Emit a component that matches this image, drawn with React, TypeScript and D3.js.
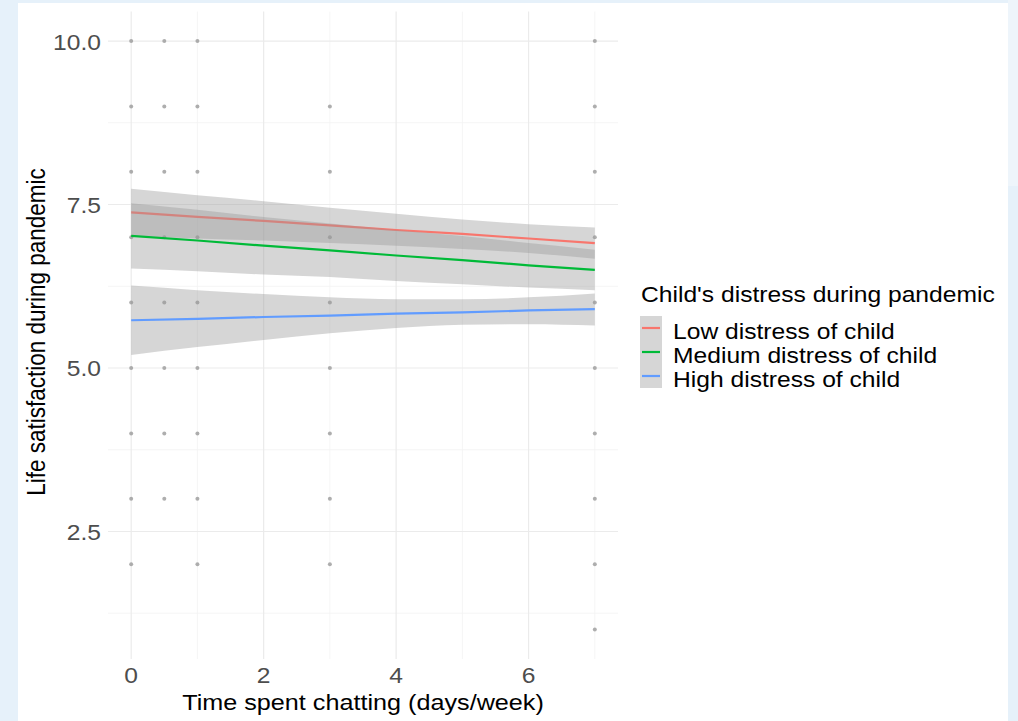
import React from "react";
import * as d3 from "d3";

const xTicks = [0, 2, 4, 6];
const xMinor = [1, 3, 5, 7];
const yTicks = [2.5, 5, 7.5, 10];
const yMinor = [1.25, 3.75, 6.25, 8.75];
const yTickLabels = ["2.5", "5.0", "7.5", "10.0"];

const groups = ["Low distress of child", "Medium distress of child", "High distress of child"];
const groupColors = ["#F8766D", "#00BA38", "#619CFF"];

const fitX = [0, 1, 2, 3, 4, 5, 6, 7];
const lowFit = [7.38, 7.31, 7.25, 7.18, 7.11, 7.05, 6.98, 6.91];
const lowLower = [7.02, 6.98, 6.95, 6.91, 6.87, 6.82, 6.76, 6.67];
const lowUpper = [7.74, 7.64, 7.55, 7.45, 7.36, 7.27, 7.2, 7.15];
const medFit = [7.02, 6.95, 6.87, 6.8, 6.72, 6.65, 6.57, 6.5];
const medLower = [6.52, 6.48, 6.43, 6.39, 6.33, 6.28, 6.23, 6.19];
const medUpper = [7.52, 7.42, 7.31, 7.21, 7.11, 7.02, 6.91, 6.81];
const highFit = [5.73, 5.75, 5.78, 5.8, 5.83, 5.85, 5.88, 5.9];
const highLower = [5.2, 5.32, 5.43, 5.53, 5.61, 5.66, 5.67, 5.65];
const highUpper = [6.26, 6.19, 6.13, 6.08, 6.05, 6.05, 6.08, 6.14];

const pointX = [
  0, 0.5, 1, 7,
  0, 0.5, 1, 3, 7,
  0, 0.5, 1, 3, 7,
  0, 0.5, 1, 3, 7,
  0, 0.5, 1, 3, 7,
  0, 0.5, 1, 3, 7,
  0, 0.5, 1, 3, 7,
  0, 0.5, 1, 3, 7,
  0, 1, 3, 7,
  7,
];
const pointY = [
  10, 10, 10, 10,
  9, 9, 9, 9, 9,
  8, 8, 8, 8, 8,
  7, 7, 7, 7, 7,
  6, 6, 6, 6, 6,
  5, 5, 5, 5, 5,
  4, 4, 4, 4, 4,
  3, 3, 3, 3, 3,
  2, 2, 2, 2,
  1,
];

const W = 1018;
const H = 721;
const FONT = "'Liberation Sans', Arial, sans-serif";
const SX = 1.12;

function T(props: {
  x: number;
  y: number;
  size: number;
  anchor?: string;
  fill?: string;
  rotate?: boolean;
  children: React.ReactNode;
}) {
  const { x, y, size, anchor = "start", fill = "#000", rotate = false, children } = props;
  return (
    <text
      transform={`translate(${x},${y}) scale(${SX},1)${rotate ? " rotate(-90)" : ""}`}
      fontSize={size}
      textAnchor={anchor}
      fill={fill}
    >
      {children}
    </text>
  );
}

export default function App() {
  const x = d3.scaleLinear().domain([-0.35, 7.35]).range([108, 618]);
  const y = d3.scaleLinear().domain([0.55, 10.45]).range([659, 11.6]);
  const [px0, px1] = x.range();
  const [py0, py1] = y.range();

  const series = [
    { fit: lowFit, lo: lowLower, hi: lowUpper },
    { fit: medFit, lo: medLower, hi: medUpper },
    { fit: highFit, lo: highLower, hi: highUpper },
  ];

  const line = d3
    .line<number>()
    .x((_, i) => x(fitX[i]))
    .y((d) => y(d));

  const ribbonPath = (lo: number[], hi: number[]) =>
    d3
      .area<number>()
      .curve(d3.curveMonotoneX)
      .x((_, i) => x(fitX[i]))
      .y0((_, i) => y(lo[i]))
      .y1((_, i) => y(hi[i]))(fitX) as string;

  const legendX = 640;
  const keyTop = 316;
  const keyH = 24;

  return (
    <svg
      width={W}
      height={H}
      style={{ position: "absolute", left: 0, top: 0 }}
      fontFamily={FONT}
    >
      <rect x={0} y={0} width={W} height={H} fill="#e6f1fa" />
      <rect x={1008} y={0} width={10} height={186} fill="#eef5fb" />
      <rect x={18} y={3} width={990} height={H - 3} fill="#ffffff" />

      {/* grid */}
      {yMinor.map((v) => (
        <line key={"ym" + v} x1={px0} x2={px1} y1={y(v)} y2={y(v)} stroke="#f2f2f2" strokeWidth={0.8} />
      ))}
      {xMinor.map((v) => (
        <line key={"xm" + v} y1={py1} y2={py0} x1={x(v)} x2={x(v)} stroke="#f2f2f2" strokeWidth={0.8} />
      ))}
      {yTicks.map((v) => (
        <line key={"yM" + v} x1={px0} x2={px1} y1={y(v)} y2={y(v)} stroke="#ebebeb" strokeWidth={1.2} />
      ))}
      {xTicks.map((v) => (
        <line key={"xM" + v} y1={py1} y2={py0} x1={x(v)} x2={x(v)} stroke="#ebebeb" strokeWidth={1.2} />
      ))}

      {/* points */}
      {pointX.map((v, i) => (
        <circle key={"p" + i} cx={x(v)} cy={y(pointY[i])} r={2} fill="#9a9a9a" opacity={0.8} />
      ))}

      {/* smooths */}
      {series.map((s, gi) => (
        <g key={"s" + gi}>
          <path d={ribbonPath(s.lo, s.hi)} fill="#999999" fillOpacity={0.4} />
          <path d={line(s.fit) as string} fill="none" stroke={groupColors[gi]} strokeWidth={2.2} />
        </g>
      ))}

      {/* y tick labels */}
      {yTicks.map((v, i) => (
        <T key={"yl" + v} x={101} y={y(v) + 8.5} size={22} anchor="end" fill="#4d4d4d">
          {yTickLabels[i]}
        </T>
      ))}
      {/* x tick labels */}
      {xTicks.map((v) => (
        <T key={"xl" + v} x={x(v)} y={683} size={22} anchor="middle" fill="#4d4d4d">
          {v}
        </T>
      ))}

      {/* axis titles */}
      <T x={(px0 + px1) / 2} y={710} size={22.5} anchor="middle">
        Time spent chatting (days/week)
      </T>
      <T x={45} y={332} size={22.5} anchor="middle" rotate>
        Life satisfaction during pandemic
      </T>

      {/* legend */}
      <T x={641} y={302} size={22}>
        Child's distress during pandemic
      </T>
      {groups.map((g, i) => (
        <g key={"lg" + i}>
          <rect x={legendX} y={keyTop + i * keyH} width={22} height={keyH} fill="#999999" fillOpacity={0.4} />
          <line
            x1={legendX + 2}
            x2={legendX + 20}
            y1={keyTop + i * keyH + keyH / 2}
            y2={keyTop + i * keyH + keyH / 2}
            stroke={groupColors[i]}
            strokeWidth={2.2}
          />
          <T x={673} y={keyTop + i * keyH + keyH / 2 + 11} size={22}>
            {g}
          </T>
        </g>
      ))}
    </svg>
  );
}
